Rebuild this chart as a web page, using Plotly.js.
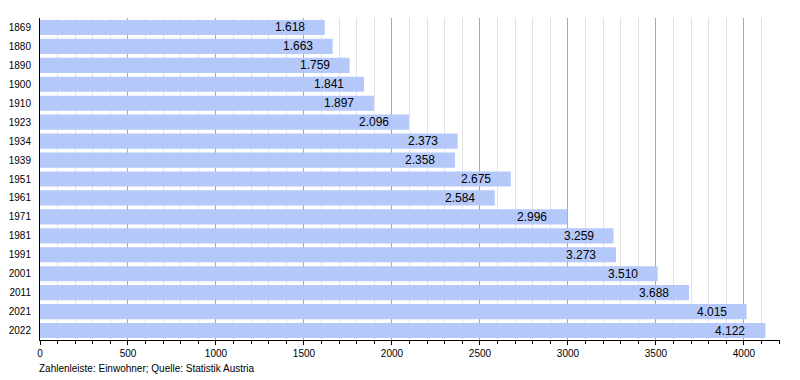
<!DOCTYPE html>
<html><head><meta charset="utf-8">
<script src="https://cdn.plot.ly/plotly-3.0.1.min.js"></script>
<style>html,body{margin:0;padding:0;background:#fff}#c{width:800px;height:380px}</style>
</head><body><div id="c"></div>
<script>
const years = ["1869","1880","1890","1900","1910","1923","1934","1939","1951","1961","1971","1981","1991","2001","2011","2021","2022"];
const population = [1618,1663,1759,1841,1897,2096,2373,2358,2675,2584,2996,3259,3273,3510,3688,4015,4122];
const xTicks = [0,500,1000,1500,2000,2500,3000,3500,4000];

function fmt(v){ return String(v).replace(/\B(?=(\d{3})+(?!\d))/g, "."); }

const trace = {
  type: "bar", orientation: "h",
  y: years, x: population,
  marker: {color: "#b4c8fa", line: {width: 0}},
  hoverinfo: "skip"
};

const valueLabels = years.map((yr, i) => ({
  x: population[i], y: i, xref: "x", yref: "y",
  text: fmt(population[i]), xanchor: "right", yanchor: "middle",
  xshift: -18, showarrow: false,
  font: {family: "Liberation Sans, Arial, sans-serif", size: 12, color: "#000"}
}));

const layout = {
  width: 800, height: 380,
  margin: {l: 40, r: 20, t: 18, b: 40},
  paper_bgcolor: "#fff", plot_bgcolor: "#fff",
  bargap: 0.2, showlegend: false,
  font: {family: "Liberation Sans, Arial, sans-serif", size: 10, color: "#000"},
  xaxis: {
    range: [0, 4205], tickvals: xTicks, ticktext: xTicks.map(String),
    ticks: "outside", ticklen: 4, tickcolor: "#000", tickwidth: 1,
    showline: true, linecolor: "#000", linewidth: 1,
    showgrid: true, gridcolor: "#a8a8a8", gridwidth: 1, zeroline: false,
    minor: {dtick: 100, tick0: 0, ticks: "outside", ticklen: 3, tickcolor: "#000", showgrid: true, gridcolor: "#e2e2e2", gridwidth: 1},
    tickfont: {size: 10}, fixedrange: true
  },
  yaxis: {
    type: "category", categoryorder: "array", categoryarray: years,
    range: [years.length - 0.5, -0.5],
    showline: true, linecolor: "#000", linewidth: 1,
    ticks: "", showgrid: false, zeroline: false,
    tickfont: {size: 10}, ticklabelstandoff: 6, fixedrange: true
  },
  annotations: valueLabels.concat([{
    text: "Zahlenleiste: Einwohner; Quelle: Statistik Austria",
    xref: "paper", yref: "paper", x: 0, y: -0.09, xanchor: "left", yanchor: "middle",
    xshift: -3,
    showarrow: false, font: {size: 10, color: "#000"}
  }])
};

Plotly.newPlot("c", [trace], layout, {displayModeBar: false, staticPlot: true});
</script></body></html>
